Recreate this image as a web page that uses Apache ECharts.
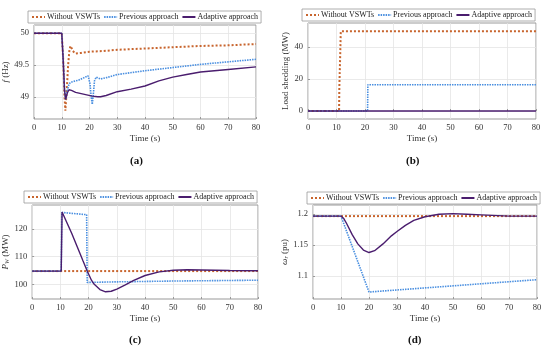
<!DOCTYPE html>
<html><head><meta charset="utf-8">
<script src="https://cdn.jsdelivr.net/npm/echarts@6/dist/echarts.min.js"></script>
<style>html,body{margin:0;padding:0;background:#fff}#c{width:550px;height:355px}</style>
</head><body><div id="c"></div>
<script>
// ---- Data ----
var seriesNames = ['Without VSWTs', 'Previous approach', 'Adaptive approach'];
var timeTicks = [0, 10, 20, 30, 40, 50, 60, 70, 80];

// (a) frequency f (Hz)
var aTicks = [49, 49.5, 50];
var aNoT = [0,10,10.5,11,11.3,11.8,12.3,12.8,13.2,14,15,17,20,25,30,40,50,60,70,80];
var aNoV = [50,50,49.6,49.0,48.78,49.1,49.5,49.75,49.8,49.72,49.68,49.69,49.71,49.72,49.74,49.76,49.78,49.8,49.81,49.83];
var aPrevT = [0,10,10.5,11,11.4,12,12.5,13,14,16,18,19.5,20.2,20.6,21,21.4,21.8,22.4,23,24,26,30,40,50,60,70,80];
var aPrevV = [50,50,49.6,49.1,48.96,49.1,49.18,49.22,49.24,49.26,49.3,49.33,49.2,49.0,48.88,49.05,49.25,49.31,49.29,49.28,49.3,49.35,49.41,49.46,49.51,49.55,49.59];
var aAdT = [0,10,10.5,11,11.4,12,12.6,13.5,15,17,19,21,23,24,26,30,35,40,45,50,55,60,70,80];
var aAdV = [50,50,49.6,49.1,48.96,49.06,49.11,49.1,49.07,49.05,49.03,49.01,49.0,49.0,49.02,49.08,49.12,49.17,49.25,49.31,49.35,49.39,49.43,49.47];

// (b) load shedding (MW)
var bTicks = [0, 20, 40];
var bNoT = [0,10.9,11.0,11.3,11.5,80];
var bNoV = [0,0,15,35,50,50];
var bPrevT = [0,20.9,21.0,80];
var bPrevV = [0,0,16.5,16.5];
var bAdT = [0,80];
var bAdV = [0,0];

// (c) P_W (MW)
var cTicks = [100, 110, 120];
var cNoT = [0,80];
var cNoV = [104.8,104.8];
var cPrevT = [0,10.3,10.5,19.3,19.5,30,50,80];
var cPrevV = [104.8,104.8,126,125.2,100.7,100.9,101.2,101.5];
var cAdT = [0,10.3,10.6,12,14,16,18,19.5,21,22,24,26,28,30,33,36,40,45,50,55,60,70,80];
var cAdV = [104.8,104.8,126.2,123,118.5,113.5,108.5,104.8,101.5,100,98.1,97.3,97.5,98.3,99.8,101.4,103.2,104.5,105.1,105.3,105.2,105,104.9];

// (d) omega_r (pu)
var dTicks = [1.1, 1.15, 1.2];
var dNoT = [0,80];
var dNoV = [1.197,1.197];
var dPrevT = [0,10,20,80];
var dPrevV = [1.197,1.197,1.074,1.094];
var dAdT = [0,10,11,12,14,16,18,20,22,25,28,30,33,36,40,45,50,55,60,70,80];
var dAdV = [1.197,1.197,1.193,1.185,1.167,1.152,1.142,1.138,1.141,1.152,1.165,1.172,1.182,1.19,1.196,1.2,1.201,1.2,1.199,1.197,1.197];

// ---- Styling / layout ----
var FONT = 'Liberation Serif';
var colors = ['#c8652e', '#4a8fe0', '#4a1d6e'];
var lineTypes = [[2,2], [1.5,1], 'solid'];
var widths = [2, 1.6, 1.4];

var panels = [
  {grid:{left:34, top:25, width:222, height:94}, min:48.65, max:50.13, ticks:aTicks, name:'{i|f} (Hz)',
   data:[[aNoT,aNoV],[aPrevT,aPrevV],[aAdT,aAdV]], legend:{left:28, top:11}, label:'(a)', labelPos:[137,163], nameGap:18},
  {grid:{left:308, top:23, width:228, height:96}, min:-5, max:55.2, ticks:bTicks, name:'Load shedding (MW)',
   data:[[bNoT,bNoV],[bPrevT,bPrevV],[bAdT,bAdV]], legend:{left:302, top:9}, label:'(b)', labelPos:[413,163], nameGap:14},
  {grid:{left:32, top:205, width:226, height:94}, min:94.7, max:128.7, ticks:cTicks, name:'{n|P}{s|W} (MW)',
   data:[[cNoT,cNoV],[cPrevT,cPrevV],[cAdT,cAdV]], legend:{left:24, top:191}, label:'(c)', labelPos:[136,342], nameGap:16},
  {grid:{left:313, top:205, width:224, height:94}, min:1.0627, max:1.215, ticks:dTicks, name:'{n|ω}{s|r} (pu)',
   data:[[dNoT,dNoV],[dPrevT,dPrevV],[dAdT,dAdV]], legend:{left:307, top:192}, label:'(d)', labelPos:[415,342], nameGap:20}
];

function pairs(t, v) { return t.map(function (x, i) { return [x, v[i]]; }); }

var option = {
  animation: false,
  backgroundColor: '#fff',
  textStyle: {fontFamily: FONT},
  grid: [], xAxis: [], yAxis: [], series: [], legend: [], graphic: []
};

var nameRich = {
  i: {fontStyle: 'italic', fontFamily: FONT, fontSize: 9, color: '#333'},
  n: {fontStyle: 'italic', fontFamily: FONT, fontSize: 9, color: '#333'},
  s: {fontStyle: 'italic', fontFamily: FONT, fontSize: 6, color: '#333', verticalAlign: 'bottom', padding:[4,0,0,0]}
};

panels.forEach(function (p, k) {
  option.grid.push(Object.assign({show: true, borderColor: '#999', borderWidth: 1, containLabel: false}, p.grid));
  option.xAxis.push({
    type: 'value', gridIndex: k, min: 0, max: 80, interval: 10,
    name: 'Time (s)', nameLocation: 'middle', nameGap: 15,
    nameTextStyle: {fontFamily: FONT, fontSize: 9, color: '#333'},
    axisLine: {show: false}, axisTick: {show: true, length: 2, inside: true, lineStyle: {color: '#999'}},
    axisLabel: {fontFamily: FONT, fontSize: 8.5, color: '#333', margin: 4, customValues: timeTicks},
    splitLine: {show: true, lineStyle: {color: '#e4e4e4', width: 0.8}}
  });
  option.yAxis.push({
    type: 'value', gridIndex: k, min: p.min, max: p.max,
    name: p.name, nameLocation: 'middle', nameGap: p.nameGap, nameRotate: 90,
    nameTextStyle: {fontFamily: FONT, fontSize: 9, color: '#333', rich: nameRich},
    axisLine: {show: false},
    axisTick: {show: true, length: 2, inside: true, lineStyle: {color: '#999'}, customValues: p.ticks},
    axisLabel: {fontFamily: FONT, fontSize: 8.5, color: '#333', margin: 5, customValues: p.ticks,
      formatter: function (v) { return String(+v.toFixed(3)); }},
    splitLine: {show: true, lineStyle: {color: '#e4e4e4', width: 0.8}}
  });
  p.data.forEach(function (d, s) {
    option.series.push({
      type: 'line', name: seriesNames[s], xAxisIndex: k, yAxisIndex: k,
      data: pairs(d[0], d[1]), symbol: 'none', showSymbol: false, z: 3 + s,
      lineStyle: {color: colors[s], width: widths[s], type: lineTypes[s]},
      itemStyle: {color: colors[s]}
    });
  });
  option.legend.push({
    left: p.legend.left, top: p.legend.top,
    data: seriesNames, orient: 'horizontal', itemGap: 3, itemWidth: 13, itemHeight: 6,
    padding: [2, 3, 2, 3], borderColor: '#999', borderWidth: 0.8, borderRadius: 0,
    backgroundColor: '#fff', selectedMode: false,
    itemStyle: {opacity: 0},
    textStyle: {fontFamily: FONT, fontSize: 8, color: '#222', padding: [0,0,0,-3]}
  });
  option.graphic.push({
    type: 'text', left: p.labelPos[0] - 7, top: p.labelPos[1] - 7,
    style: {text: p.label, fontFamily: FONT, fontSize: 11, fontWeight: 'bold', fill: '#111'}
  });
});

var chart = echarts.init(document.getElementById('c'), null, {renderer: 'canvas'});
chart.setOption(option);
</script>
</body></html>
